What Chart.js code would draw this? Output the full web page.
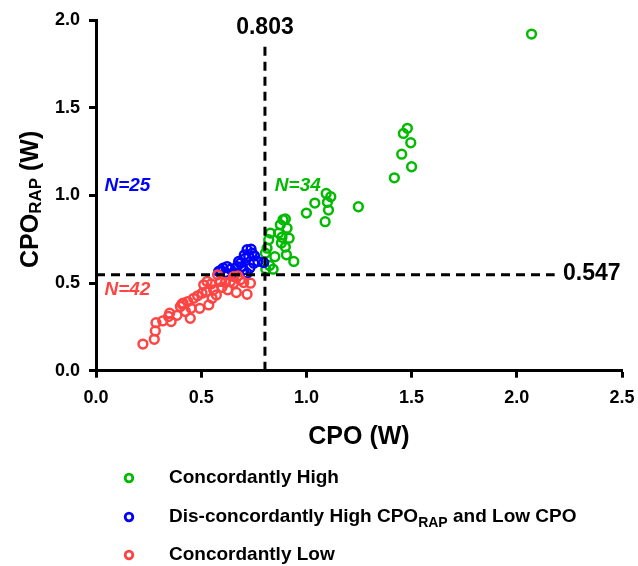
<!DOCTYPE html>
<html>
<head>
<meta charset="utf-8">
<script src="https://cdn.jsdelivr.net/npm/chart.js@4.4.1/dist/chart.umd.min.js"></script>
<style>
html,body{margin:0;padding:0;background:#fff;}
#wrap{position:relative;width:638px;height:566px;}
</style>
</head>
<body>
<div id="wrap"><canvas id="c" width="638" height="566"></canvas></div>
<script>
// ---- data ----
const seriesNames = ["Concordantly High", "Dis-concordantly High CPO_RAP and Low CPO", "Concordantly Low"];
const highX = [0.805,0.813,0.821,0.829,0.807,0.842,0.868,0.876,0.889,0.900,0.908,0.881,0.918,0.900,0.905,0.940,0.884,1.000,1.040,1.094,1.116,1.100,1.105,1.089,1.247,2.070,1.480,1.461,1.496,1.453,1.500,1.418,0.850,0.825];
const highY = [0.670,0.699,0.747,0.785,0.579,0.579,0.785,0.832,0.861,0.865,0.813,0.728,0.756,0.705,0.661,0.623,0.761,0.899,0.956,1.011,0.992,0.960,0.916,0.850,0.935,1.920,1.382,1.353,1.300,1.235,1.163,1.100,0.650,0.600];
const discX = [0.583,0.604,0.623,0.639,0.654,0.615,0.686,0.710,0.718,0.737,0.726,0.753,0.694,0.731,0.750,0.769,0.797,0.702,0.662,0.718,0.670,0.742,0.705,0.593,0.678];
const discY = [0.566,0.585,0.594,0.579,0.556,0.560,0.613,0.642,0.690,0.693,0.651,0.655,0.594,0.585,0.613,0.623,0.617,0.575,0.555,0.556,0.594,0.670,0.660,0.573,0.623];
const lowX = [0.223,0.277,0.282,0.285,0.317,0.350,0.357,0.385,0.401,0.414,0.425,0.436,0.448,0.452,0.464,0.483,0.493,0.504,0.512,0.525,0.536,0.547,0.559,0.572,0.578,0.591,0.599,0.615,0.626,0.639,0.654,0.667,0.674,0.686,0.702,0.718,0.734,0.409,0.345,0.528,0.552,0.654];
const lowY = [0.152,0.179,0.227,0.274,0.284,0.328,0.280,0.316,0.366,0.385,0.337,0.394,0.299,0.356,0.413,0.427,0.356,0.442,0.490,0.451,0.375,0.495,0.461,0.432,0.547,0.509,0.476,0.503,0.461,0.509,0.499,0.446,0.541,0.518,0.503,0.436,0.499,0.381,0.309,0.509,0.413,0.537];
const cutX = 0.803;
const cutY = 0.547;
const vLineY = [0, 1.857];
const hLineX = [0, 2.18];
const xTicks = [0.0, 0.5, 1.0, 1.5, 2.0, 2.5];
const yTicks = [0.0, 0.5, 1.0, 1.5, 2.0];
const groupLabels = ["N=34", "N=25", "N=42"];
const groupLabelPos = [[0.85, 1.055], [0.04, 1.055], [0.04, 0.46]];

const colors = ["#00BB00", "#0000FF", "#FF4444"];

function pts(xs, ys){ return xs.map((x,i)=>({x:x, y:ys[i]})); }

const F = "'Liberation Sans', Arial, sans-serif";

const overlay = {
  id: 'overlay',
  afterDraw(chart){
    const ctx = chart.ctx;
    const xs = chart.scales.x, ys = chart.scales.y;
    ctx.save();
    // group labels
    ctx.font = "italic bold 19px " + F;
    ctx.textBaseline = "middle";
    ctx.textAlign = "left";
    groupLabels.forEach((t,i)=>{
      ctx.fillStyle = colors[i];
      ctx.fillText(t, xs.getPixelForValue(groupLabelPos[i][0]), ys.getPixelForValue(groupLabelPos[i][1]));
    });
    // cut-off labels
    ctx.fillStyle = "#000";
    ctx.font = "bold 23px " + F;
    ctx.textAlign = "center";
    ctx.fillText(cutX.toFixed(3), xs.getPixelForValue(cutX), 28);
    ctx.textAlign = "left";
    ctx.fillText(cutY.toFixed(3), 563, ys.getPixelForValue(cutY) - 1);
    // x axis title
    ctx.font = "bold 25px " + F;
    ctx.textAlign = "center";
    ctx.fillText("CPO (W)", (xs.left + xs.right)/2, 437);
    // y axis title with subscript
    ctx.translate(31, (ys.top + ys.bottom)/2 + 4);
    ctx.rotate(-Math.PI/2);
    const big = "bold 25px " + F, small = "bold 17px " + F;
    ctx.font = big; const w1 = ctx.measureText("CPO").width; const w3 = ctx.measureText(" (W)").width;
    ctx.font = small; const w2 = ctx.measureText("RAP").width;
    let x0 = -(w1+w2+w3)/2;
    ctx.textAlign = "left";
    ctx.font = big; ctx.fillText("CPO", x0, 0);
    ctx.font = small; ctx.fillText("RAP", x0 + w1, 5);
    ctx.font = big; ctx.fillText(" (W)", x0 + w1 + w2, 0);
    ctx.setTransform(1,0,0,1,0,0);
    // legend
    const rows = [478, 517, 555];
    rows.forEach((y,i)=>{
      ctx.beginPath();
      ctx.arc(129, y, 3.8, 0, Math.PI*2);
      ctx.lineWidth = 2.8;
      ctx.strokeStyle = colors[i];
      ctx.stroke();
      ctx.fillStyle = "#000";
      ctx.textAlign = "left";
      ctx.textBaseline = "middle";
      if (i === 1) {
        const A = "Dis-concordantly High CPO", B = "RAP", C = " and Low CPO";
        ctx.font = "bold 19px " + F; ctx.fillText(A, 169, y);
        const wa = ctx.measureText(A).width;
        ctx.font = "bold 14px " + F; ctx.fillText(B, 169 + wa, y + 6);
        const wb = ctx.measureText(B).width;
        ctx.font = "bold 19px " + F; ctx.fillText(C, 169 + wa + wb, y);
      } else {
        ctx.font = "bold 19px " + F;
        ctx.fillText(i === 0 ? seriesNames[0] : seriesNames[2], 169, y);
      }
    });
    ctx.restore();
  }
};

const scatterDs = (label, data, color) => ({
  label, data, type: 'scatter',
  borderColor: color, backgroundColor: 'rgba(255,255,255,0)',
  pointRadius: 4.4, pointBorderWidth: 2.5, pointHoverRadius: 4.4, showLine: false
});

new Chart(document.getElementById('c'), {
  type: 'scatter',
  data: {
    datasets: [
      {label:'vline', data:[{x:cutX,y:vLineY[0]},{x:cutX,y:vLineY[1]}], showLine:true, borderColor:'#000', borderWidth:3, borderDash:[9,6], pointRadius:0, fill:false},
      {label:'hline', data:[{x:hLineX[0],y:cutY},{x:hLineX[1],y:cutY}], showLine:true, borderColor:'#000', borderWidth:3, borderDash:[9,6], pointRadius:0, fill:false},
      scatterDs(seriesNames[2], pts(lowX, lowY), colors[2]),
      scatterDs(seriesNames[1], pts(discX, discY), colors[1]),
      scatterDs(seriesNames[0], pts(highX, highY), colors[0])
    ]
  },
  options: {
    responsive: false,
    animation: false,
    events: [],
    layout: { padding: { top: 20, right: 0, left: 0, bottom: 0 } },
    plugins: { legend: { display: false }, tooltip: { enabled: false } },
    scales: {
      x: {
        type: 'linear', min: 0, max: 2.5,
        afterFit(s){ s.height = 195.3; s.paddingRight = 16; },
        afterBuildTicks(s){ s.ticks = xTicks.map(v=>({value:v})); },
        border: { display: true, color: '#000', width: 3 },
        grid: { display: true, drawOnChartArea: false, drawTicks: true, tickLength: 7, tickColor: '#000', tickWidth: 3 },
        ticks: { color: '#000', font: { family: F, size: 18, weight: 'bold' }, padding: 10, maxRotation: 0,
          callback: v => Number(v).toFixed(1) }
      },
      y: {
        type: 'linear', min: 0, max: 2.0,
        afterFit(s){ s.width = 96; s.paddingTop = 0; s.paddingBottom = 0; },
        afterBuildTicks(s){ s.ticks = yTicks.map(v=>({value:v})); },
        border: { display: true, color: '#000', width: 3 },
        grid: { display: true, drawOnChartArea: false, drawTicks: true, tickLength: 7, tickColor: '#000', tickWidth: 3 },
        ticks: { color: '#000', font: { family: F, size: 18, weight: 'bold' }, padding: 9,
          callback: v => Number(v).toFixed(1) }
      }
    }
  },
  plugins: [overlay]
});
</script>
</body>
</html>
